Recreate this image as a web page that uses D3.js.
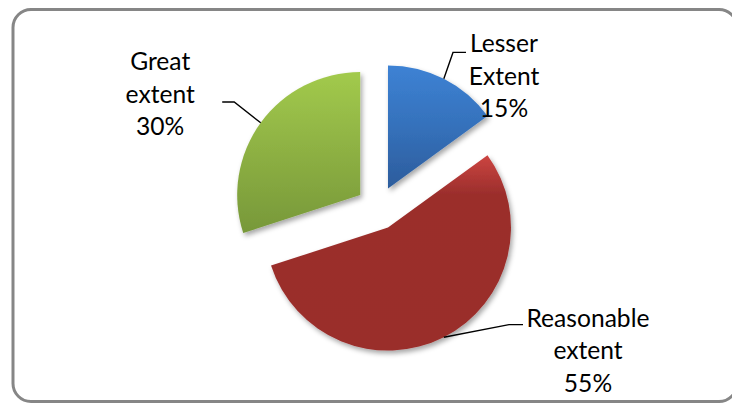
<!DOCTYPE html>
<html>
<head>
<meta charset="utf-8">
<script src="https://cdn.jsdelivr.net/npm/d3@7/dist/d3.min.js"></script>
<style>
  html, body { margin: 0; padding: 0; background: #fff; }
  svg { display: block; }
</style>
</head>
<body>
<svg id="chart" width="732" height="403"></svg>
<script>
// Survey responses: extent of agreement
const categories = ["Lesser Extent", "Reasonable extent", "Great extent"];
const labelLines = [["Lesser", "Extent"], ["Reasonable", "extent"], ["Great", "extent"]];
const values = [15, 55, 30];
const colorTop = ["#3d82d4", "#cc4541", "#a2ca4c"];
const colorMid = ["#3571bb", "#9b2e2c", "#8db043"];
const colorBottom = ["#2c5c9c", "#9a2d2b", "#779839"];

const W = 732, H = 403;
const center = { x: 378, y: 208 };
const radius = 123;
const explode = 22;

// Label placement: elbow point and text anchor relative to each slice's own centre
const labelLayout = [
  { elbow: [65, -136], end: [78, -136], text: [116, -136], anchor: "middle" },
  { elbow: [121, 97], end: [135, 97], text: [200, 99], anchor: "middle" },
  { elbow: [-126, -93], end: [-138, -93], text: [-200, -125], anchor: "middle" }
];
const lineH = 32.5;

const svg = d3.select("#chart");
const defs = svg.append("defs");

// soft drop shadow under the slices
const f = defs.append("filter").attr("id", "shadow")
  .attr("x", "-20%").attr("y", "-20%").attr("width", "140%").attr("height", "140%");
f.append("feDropShadow").attr("dx", 2).attr("dy", 3).attr("stdDeviation", 2.5)
  .attr("flood-color", "#000").attr("flood-opacity", 0.35);

values.forEach((v, i) => {
  const g = defs.append("linearGradient").attr("id", "grad" + i)
    .attr("x1", 0).attr("y1", 0).attr("x2", 0).attr("y2", 1);
  g.append("stop").attr("offset", "0%").attr("stop-color", colorTop[i]);
  g.append("stop").attr("offset", i === 1 ? "20%" : "50%").attr("stop-color", colorMid[i]);
  g.append("stop").attr("offset", "100%").attr("stop-color", colorBottom[i]);
});

// chart frame
svg.append("rect")
  .attr("x", 13).attr("y", 9.5)
  .attr("width", 724).attr("height", 392)
  .attr("rx", 18).attr("ry", 18)
  .attr("fill", "#fff")
  .attr("stroke", "#868686").attr("stroke-width", 3);

const pie = d3.pie().sort(null).value(d => d).startAngle(0).endAngle(2 * Math.PI);
const arcs = pie(values);
const arc = d3.arc().innerRadius(0).outerRadius(radius);

const sliceCenter = a => {
  const m = (a.startAngle + a.endAngle) / 2;
  return [center.x + explode * Math.sin(m), center.y - explode * Math.cos(m)];
};

svg.append("g").attr("filter", "url(#shadow)")
  .selectAll("path").data(arcs).join("path")
  .attr("transform", d => `translate(${sliceCenter(d)})`)
  .attr("d", arc)
  .attr("fill", (d, i) => `url(#grad${i})`);

// leader lines and labels
const lbl = svg.append("g");
arcs.forEach((a, i) => {
  const [cx, cy] = sliceCenter(a);
  const m = (a.startAngle + a.endAngle) / 2;
  const p0 = [cx + radius * Math.sin(m), cy - radius * Math.cos(m)];
  const L = labelLayout[i];
  lbl.append("path")
    .attr("d", d3.line()([p0, [cx + L.elbow[0], cy + L.elbow[1]], [cx + L.end[0], cy + L.end[1]]]))
    .attr("fill", "none").attr("stroke", "#000").attr("stroke-width", 1.4);
  const lines = labelLines[i].concat([values[i] + "%"]);
  const t = lbl.append("text")
    .attr("text-anchor", L.anchor)
    .attr("font-family", "Lato, 'Open Sans', sans-serif")
    .attr("font-size", 24.6)
    .attr("fill", "#000");
  lines.forEach((s, k) => {
    t.append("tspan")
      .attr("x", cx + L.text[0])
      .attr("y", cy + L.text[1] + k * lineH)
      .text(s);
  });
});
</script>
</body>
</html>
